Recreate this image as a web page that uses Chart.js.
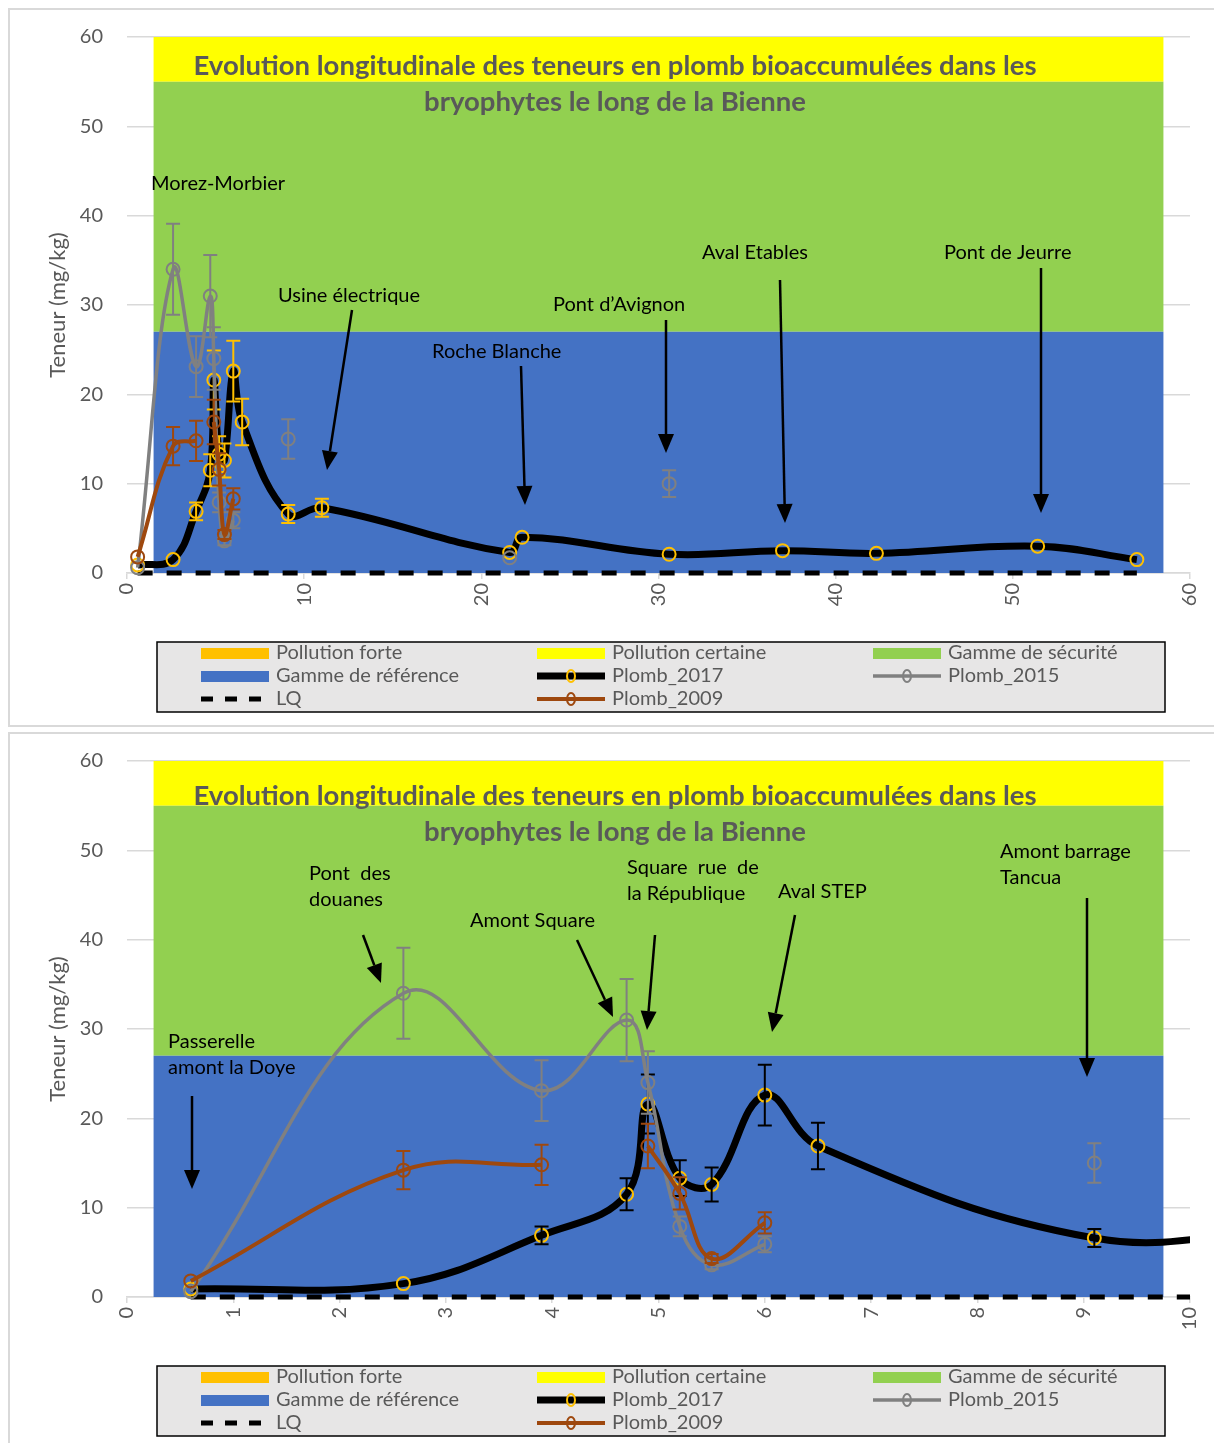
<!DOCTYPE html>
<html>
<head>
<meta charset="utf-8">
<script src="https://cdn.jsdelivr.net/npm/chart.js@4.4.1/dist/chart.umd.min.js"></script>
<style>
  body { margin: 0; background: #fff; overflow: hidden; width: 1214px; height: 1443px; position: relative; }
  .panel { position: absolute; left: 8px; width: 1220px; border: 2px solid #d9d9d9; box-sizing: border-box; }
  canvas { position: absolute; left: 0; }
</style>
</head>
<body>
<div class="panel" style="top:8px;height:719px"></div>
<div class="panel" style="top:732px;height:730px"></div>
<canvas id="chartLong" width="1214" height="724" style="top:0"></canvas>
<canvas id="chartZoom" width="1214" height="724" style="top:724px"></canvas>
<script>
// distance from the source (km) of each sampling station
var distances = [0.6, 2.6, 3.9, 4.7, 4.9, 5.2, 5.5, 6.0, 6.5, 9.1, 11, 21.6, 22.3, 30.6, 37, 42.3, 51.4, 57];

var plomb2017 = [0.9, 1.5, 6.9, 11.5, 21.6, 13.3, 12.6, 22.6, 16.9, 6.6, 7.3, 2.3, 4.0, 2.1, 2.5, 2.2, 3.0, 1.5];
var err2017   = [0, 0, 1.0, 1.8, 3.3, 2.0, 1.9, 3.4, 2.6, 1.0, 1.0, 0, 0, 0, 0, 0, 0, 0];

var plomb2015 = [0.6, 34.0, 23.1, 31.0, 24.0, 7.9, 3.6, 5.9, null, 15.0, null, 1.7, null, 10.0, null, null, null, null];
var err2015   = [0, 5.1, 3.4, 4.6, 3.5, 1.1, 0.5, 0.9, 0, 2.2, 0, 0, 0, 1.5, 0, 0, 0, 0];

var plomb2009 = [1.8, 14.2, 14.8, null, 16.9, 11.6, 4.3, 8.3, null, null, null, null, null, null, null, null, null, null];
var err2009   = [0, 2.15, 2.25, 0, 2.5, 1.8, 0.5, 1.2, 0, 0, 0, 0, 0, 0, 0, 0, 0, 0];

var limiteLQ  = [0, 0, 0, 0, 0, 0, 0, 0, 0, 0, 0, 0, 0, 0, 0, 0, 0, 0];

// background ranges (mg/kg), stacked from 0
var bandLabels  = ["Gamme de référence", "Gamme de sécurité", "Pollution certaine", "Pollution forte"];
var bandHeights = [27, 28, 5, 20];
var bandColors  = ["#4472C4", "#92D050", "#FFFF00", "#FFC000"];

var yTicks = [0, 10, 20, 30, 40, 50, 60];

var titleLines = ["Evolution longitudinale des teneurs en plomb bioaccumulées dans les",
                  "bryophytes le long de la Bienne"];

var legendLayout = ["Pollution forte", "Pollution certaine", "Gamme de sécurité",
                    "Gamme de référence", "Plomb_2017", "Plomb_2015",
                    "LQ", "Plomb_2009"];

var notesLong = [
    {text: ["Morez-Morbier"], x: 151, y: 184},
    {text: ["Usine électrique"], x: 278, y: 296, arrow: [352, 310, 327, 470]},
    {text: ["Roche Blanche"], x: 432, y: 352, arrow: [521, 366, 525, 505]},
    {text: ["Pont d\u2019Avignon"], x: 553, y: 305, arrow: [666, 320, 666, 453]},
    {text: ["Aval Etables"], x: 702, y: 253, arrow: [780, 280, 785, 523]},
    {text: ["Pont de Jeurre"], x: 944, y: 253, arrow: [1041, 268, 1041, 513]}
];

var notesZoom = [
    {text: ["Pont  des", "douanes"], x: 309, y: 150, arrow: [363, 211, 381, 259]},
    {text: ["Amont Square"], x: 470, y: 197, arrow: [577, 216, 613, 293]},
    {text: ["Square  rue  de", "la République"], x: 627, y: 144, arrow: [655, 211, 647, 306]},
    {text: ["Aval STEP"], x: 778, y: 168, arrow: [795, 191, 772, 308]},
    {text: ["Amont barrage", "Tancua"], x: 1000, y: 128, arrow: [1087, 174, 1087, 353]},
    {text: ["Passerelle", "amont la Doye"], x: 168, y: 318, arrow: [192, 372, 192, 465]}
];

var FONT = "Lato, 'Open Sans', sans-serif";

function points(values) {
    return distances.map(function (d, i) {
        return {x: d, y: values[i]};
    });
}

function drawArrow(ctx, a) {
    var x1 = a[0], y1 = a[1], x2 = a[2], y2 = a[3];
    var ang = Math.atan2(y2 - y1, x2 - x1);
    var head = 19, half = 8;
    var bx = x2 - head * Math.cos(ang), by = y2 - head * Math.sin(ang);
    ctx.strokeStyle = "#000";
    ctx.lineWidth = 2.5;
    ctx.beginPath();
    ctx.moveTo(x1, y1);
    ctx.lineTo(bx, by);
    ctx.stroke();
    ctx.fillStyle = "#000";
    ctx.beginPath();
    ctx.moveTo(x2, y2);
    ctx.lineTo(bx + half * Math.sin(ang), by - half * Math.cos(ang));
    ctx.lineTo(bx - half * Math.sin(ang), by + half * Math.cos(ang));
    ctx.closePath();
    ctx.fill();
}

function decoPlugin(notes, titleY) {
    return {
        id: "deco",
        afterDatasetDraw: function (chart, args) {
            var ds = chart.data.datasets[args.index];
            if (!ds.errors) return;
            var ctx = chart.ctx, ys = chart.scales.y, area = chart.chartArea;
            ctx.save();
            ctx.beginPath();
            ctx.rect(area.left, area.top, area.right - area.left, area.bottom - area.top);
            ctx.clip();
            ctx.strokeStyle = ds.errColor;
            ctx.lineWidth = 2;
            args.meta.data.forEach(function (pt, i) {
                var v = ds.data[i].y, e = ds.errors[i];
                if (v === null || !e) return;
                var top = ys.getPixelForValue(v + e), bot = ys.getPixelForValue(v - e);
                ctx.beginPath();
                ctx.moveTo(pt.x, top); ctx.lineTo(pt.x, bot);
                ctx.moveTo(pt.x - 7, top); ctx.lineTo(pt.x + 7, top);
                ctx.moveTo(pt.x - 7, bot); ctx.lineTo(pt.x + 7, bot);
                ctx.stroke();
            });
            ctx.restore();
        },
        afterDraw: function (chart) {
            var ctx = chart.ctx;
            ctx.save();
            // title overlaid on the plot
            ctx.font = "bold 27.5px " + FONT;
            ctx.fillStyle = "#595959";
            ctx.textAlign = "center";
            ctx.textBaseline = "middle";
            ctx.fillText(titleLines[0], 615, titleY);
            ctx.fillText(titleLines[1], 615, titleY + 36);

            // station labels and arrows
            ctx.font = "20px " + FONT;
            ctx.textAlign = "left";
            notes.forEach(function (n) {
                ctx.fillStyle = "#000";
                n.text.forEach(function (t, k) {
                    ctx.fillText(t, n.x, n.y + k * 26);
                });
                if (n.arrow) drawArrow(ctx, n.arrow);
            });

            // legend box
            ctx.fillStyle = "#E7E6E6";
            ctx.fillRect(157, 642, 1008, 70);
            ctx.strokeStyle = "#000";
            ctx.lineWidth = 1.5;
            ctx.strokeRect(157, 642, 1008, 70);
            var cols = [201, 537, 873], rows = [653, 676, 699];
            legendLayout.forEach(function (label, i) {
                var ds = chart.data.datasets.find(function (d) { return d.label === label; });
                var x = cols[i % 3], y = rows[Math.floor(i / 3)];
                if (ds.type === "bar") {
                    ctx.fillStyle = ds.backgroundColor;
                    ctx.fillRect(x, y - 5, 68, 11);
                } else if (ds.borderDash) {
                    ctx.strokeStyle = "#000";
                    ctx.lineWidth = 5;
                    ctx.setLineDash([12, 12]);
                    ctx.beginPath();
                    ctx.moveTo(x, y); ctx.lineTo(x + 68, y);
                    ctx.stroke();
                    ctx.setLineDash([]);
                } else {
                    ctx.strokeStyle = ds.borderColor;
                    ctx.lineWidth = ds.borderWidth;
                    ctx.beginPath();
                    ctx.moveTo(x, y); ctx.lineTo(x + 68, y);
                    ctx.stroke();
                    ctx.strokeStyle = ds.pointBorderColor;
                    ctx.lineWidth = 2;
                    ctx.beginPath();
                    ctx.ellipse(x + 34, y, 4, 6, 0, 0, Math.PI * 2);
                    ctx.stroke();
                }
                ctx.fillStyle = "#595959";
                ctx.font = "20px " + FONT;
                ctx.fillText(label, x + 75, y);
            });
            ctx.restore();
        }
    };
}

function buildChart(id, xMax, xStep, errColor2017, notes, titleY) {
    var bands = bandLabels.map(function (label, i) {
        return {
            type: "bar",
            label: label,
            data: [{x: 0, y: bandHeights[i]}],
            xAxisID: "xb",
            yAxisID: "yb",
            backgroundColor: bandColors[i],
            borderWidth: 0,
            grouped: false,
            barPercentage: 0.95,
            categoryPercentage: 1,
            order: 10 + i
        };
    });
    var series = [
        {
            label: "Plomb_2017",
            data: points(plomb2017),
            errors: err2017,
            errColor: errColor2017,
            borderColor: "#000000",
            borderWidth: 7,
            pointBorderColor: "#FFC000",
            order: 4
        },
        {
            label: "Plomb_2015",
            data: points(plomb2015),
            errors: err2015,
            errColor: "#808080",
            borderColor: "#808080",
            borderWidth: 3.5,
            pointBorderColor: "#808080",
            order: 3
        },
        {
            label: "LQ",
            data: points(limiteLQ),
            borderColor: "#000000",
            borderWidth: 5,
            borderDash: [15, 14],
            pointRadius: 0,
            tension: 0,
            order: 5
        },
        {
            label: "Plomb_2009",
            data: points(plomb2009),
            errors: err2009,
            errColor: "#9E480E",
            borderColor: "#9E480E",
            borderWidth: 4,
            pointBorderColor: "#9E480E",
            order: 2
        }
    ].map(function (s) {
        s.type = "line";
        s.xAxisID = "x";
        s.yAxisID = "y";
        s.spanGaps = false;
        s.clip = {left: 0, top: 0, right: 0, bottom: 10};
        if (s.tension === undefined) s.tension = 0.4;
        if (s.pointRadius === undefined) s.pointRadius = 6.5;
        s.pointBorderWidth = 2;
        s.pointBackgroundColor = "rgba(0,0,0,0)";
        return s;
    });

    return new Chart(document.getElementById(id), {
        type: "line",
        data: {
            datasets: bands.concat(series)
        },
        options: {
            responsive: false,
            animation: false,
            devicePixelRatio: 1,
            layout: {padding: {top: 37, right: 24, left: 0, bottom: 0}},
            plugins: {legend: {display: false}, tooltip: {enabled: false}},
            scales: {
                x: {
                    type: "linear",
                    min: 0,
                    max: xMax,
                    offset: false,
                    afterFit: function (scale) {
                        scale.height = 151;
                        scale.paddingLeft = 0;
                        scale.paddingRight = 0;
                    },
                    ticks: {
                        stepSize: xStep,
                        minRotation: 90,
                        maxRotation: 90,
                        padding: 4,
                        color: "#595959",
                        font: {family: FONT, size: 20}
                    },
                    grid: {drawOnChartArea: false, tickLength: 6, color: "#d9d9d9", lineWidth: 1.5},
                    border: {color: "#d9d9d9", width: 1.5}
                },
                y: {
                    min: 0,
                    max: 60,
                    afterFit: function (scale) {
                        scale.width = 127;
                        scale.paddingTop = 0;
                        scale.paddingBottom = 0;
                    },
                    afterBuildTicks: function (scale) {
                        scale.ticks = yTicks.map(function (v) { return {value: v}; });
                    },
                    ticks: {padding: 24, color: "#595959", font: {family: FONT, size: 20}},
                    grid: {drawTicks: false, color: "#d9d9d9", lineWidth: 1.5},
                    border: {display: false},
                    title: {
                        display: true,
                        text: "Teneur (mg/kg)",
                        color: "#595959",
                        font: {family: FONT, size: 22},
                        padding: {top: 45, bottom: 45}
                    }
                },
                xb: {
                    type: "linear",
                    display: false,
                    offset: false,
                    min: -0.5,
                    max: 0.5,
                    afterBuildTicks: function (scale) {
                        scale.ticks = [{value: -0.5}, {value: 0.5}];
                    }
                },
                yb: {type: "linear", display: false, min: 0, max: 60, stacked: true}
            }
        },
        plugins: [decoPlugin(notes, titleY)]
    });
}

buildChart("chartLong", 60, 10, "#FFC000", notesLong, 66);
buildChart("chartZoom", 10, 1, "#000000", notesZoom, 72);
</script>
</body>
</html>
